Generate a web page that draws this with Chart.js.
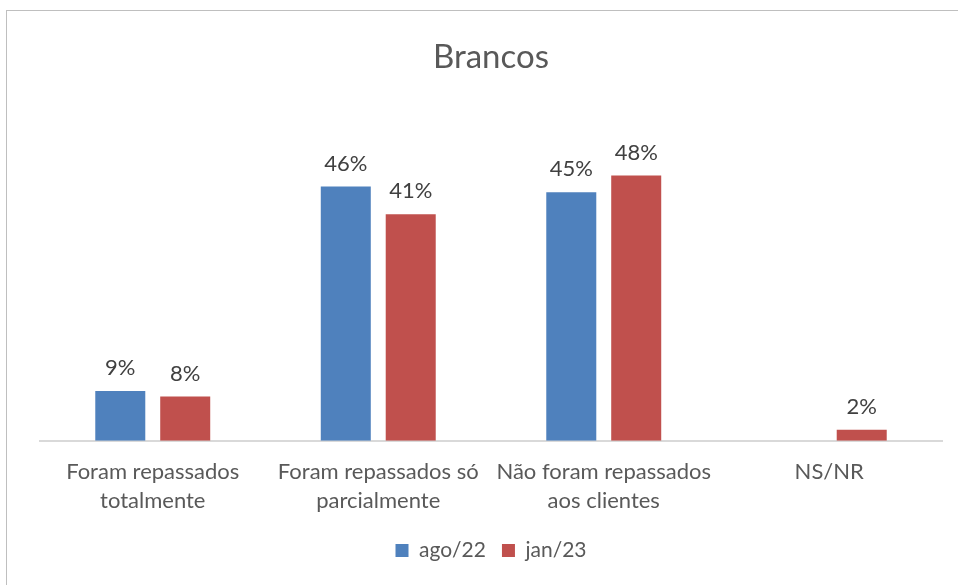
<!DOCTYPE html>
<html>
<head>
<meta charset="utf-8">
<script src="https://cdn.jsdelivr.net/npm/chart.js@4/dist/chart.umd.min.js"></script>
<style>
  body { margin: 0; background: #fff; }
  #wrap { position: relative; width: 958px; height: 585px; }
  #frame { position: absolute; left: 6px; top: 10px; width: 960px; height: 580px; border: 1px solid #bfbfbf; box-sizing: border-box; }
  canvas { position: absolute; left: 0; top: 0; }
</style>
</head>
<body>
<div id="wrap">
  <div id="frame"></div>
  <canvas id="myChart" width="958" height="585"></canvas>
</div>
<script>
const categories = [
  ['Foram repassados', 'totalmente'],
  ['Foram repassados só', 'parcialmente'],
  ['Não foram repassados', 'aos clientes'],
  'NS/NR'
];
const ago22 = [9, 46, 45, null];
const jan23 = [8, 41, 48, 2];

// percent labels above each bar
const barLabels = {
  id: 'barLabels',
  afterDatasetsDraw(chart) {
    const ctx = chart.ctx;
    ctx.save();
    ctx.font = '22px Lato';
    ctx.fillStyle = '#404040';
    ctx.textAlign = 'center';
    ctx.textBaseline = 'bottom';
    chart.data.datasets.forEach((ds, i) => {
      chart.getDatasetMeta(i).data.forEach((bar, j) => {
        if (ds.data[j] == null) return;
        ctx.fillText(ds.data[j] + '%', bar.x, bar.y - 12);
      });
    });
    ctx.restore();
  }
};

document.addEventListener('DOMContentLoaded', () => {
  const ctx = document.getElementById('myChart').getContext('2d');
  new Chart(ctx, {
    type: 'bar',
    data: {
      labels: categories,
      datasets: [
        { label: 'ago/22', data: ago22, backgroundColor: '#4f81bd' },
        { label: 'jan/23', data: jan23, backgroundColor: '#c0504d' }
      ]
    },
    options: {
      responsive: false,
      animation: false,
      datasets: { bar: { categoryPercentage: 0.576, barPercentage: 0.77 } },
      layout: { padding: { left: 40, right: 16, top: 38, bottom: 14 } },
      scales: {
        y: { display: false, min: 0, max: 60.3 },
        x: {
          grid: { display: false },
          border: { display: true, color: '#d9d9d9', width: 2 },
          ticks: { color: '#595959', font: { family: 'Lato', size: 22, lineHeight: 1.3 }, padding: 9, maxRotation: 0 }
        }
      },
      plugins: {
        title: {
          display: true,
          text: 'Brancos',
          color: '#595959',
          font: { family: 'Lato', size: 33, weight: 'normal' },
          padding: { top: 0, bottom: 30 }
        },
        legend: {
          position: 'bottom',
          labels: { color: '#595959', font: { family: 'Lato', size: 21 }, boxWidth: 13, boxHeight: 13, padding: 16 }
        },
        tooltip: { enabled: false }
      }
    },
    plugins: [barLabels]
  });
});
</script>
</body>
</html>
